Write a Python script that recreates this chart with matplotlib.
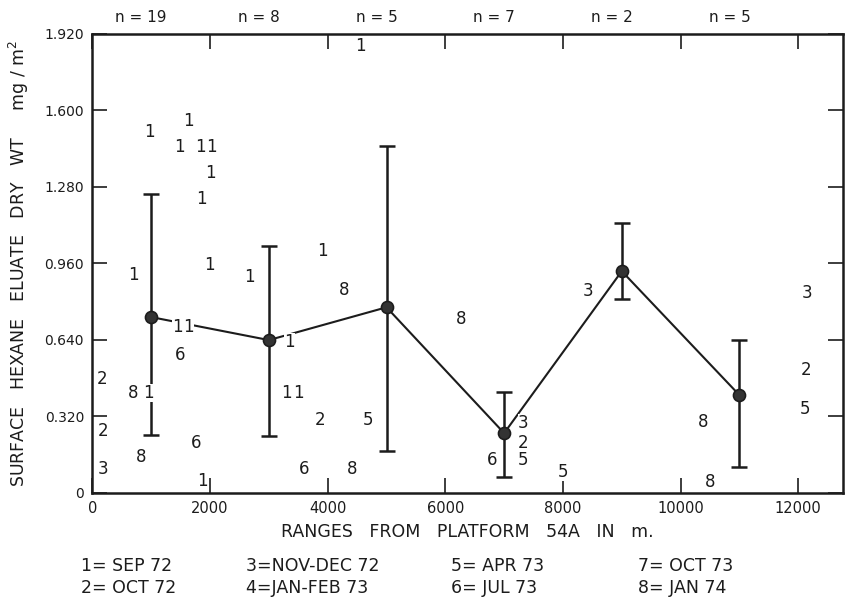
import numpy as np
import matplotlib
matplotlib.use("Agg")
import matplotlib.pyplot as plt

# station means with range bars (lower / upper)
ranges_m = [1000, 3000, 5000, 7000, 9000, 11000]
means = [0.735, 0.639, 0.776, 0.250, 0.927, 0.409]
lows = [0.242, 0.238, 0.175, 0.067, 0.810, 0.109]
highs = [1.248, 1.031, 1.448, 0.422, 1.127, 0.639]
n_counts = [19, 8, 5, 7, 2, 5]

# individual samples, coded by cruise number
sample_code = ["1", "1", "1", "1", "1", "1", "1", "1", "1", "1",
               "1", "1", "8", "1", "1", "1", "6", "2", "8", "1",
               "1", "1", "2", "2", "5", "6", "8", "3", "6", "8",
               "1", "8", "3", "3", "2", "5", "6", "5", "3", "2",
               "5", "8", "8"]
sample_x = [964, 1624, 1472, 1830, 2030, 2014, 1861, 3909, 4552, 1997,
            694, 2673, 4281, 1440, 1640, 3350, 1489, 169, 694, 948,
            3300, 3500, 186, 3875, 4687, 1760, 829, 186, 3604, 4416,
            1878, 6261, 8426, 7327, 7327, 7327, 6802, 8003, 12149, 12132,
            12115, 10389, 10508]
sample_y = [1.507, 1.553, 1.444, 1.444, 1.444, 1.336, 1.227, 1.010, 1.866, 0.952,
            0.910, 0.902, 0.847, 0.693, 0.693, 0.630, 0.576, 0.476, 0.417, 0.417,
            0.417, 0.417, 0.259, 0.305, 0.305, 0.209, 0.150, 0.100, 0.100, 0.100,
            0.050, 0.726, 0.843, 0.292, 0.209, 0.138, 0.138, 0.088, 0.835, 0.513,
            0.351, 0.296, 0.045]

yticks = [0, 0.32, 0.64, 0.96, 1.28, 1.6, 1.92]
ytick_labels = ["0", "0.320", "0.640", "0.960", "1.280", "1.600", "1.920"]
xticks = [0, 2000, 4000, 6000, 8000, 10000, 12000]

key_col1 = ["1= SEP 72", "2= OCT 72"]
key_col2 = ["3=NOV-DEC 72", "4=JAN-FEB 73"]
key_col3 = ["5= APR 73", "6= JUL 73"]
key_col4 = ["7= OCT 73", "8= JAN 74"]

ink = "#1c1c1c"
plt.rcParams["font.family"] = "DejaVu Sans"

fig = plt.figure(figsize=(8.48, 5.99), dpi=100)
ax = fig.add_axes([0.109, 0.177, 0.885, 0.767])

# mean line and range bars
ax.plot(ranges_m, means, color=ink, lw=1.5, zorder=2)
yerr = [np.array(means) - np.array(lows), np.array(highs) - np.array(means)]
ax.errorbar(ranges_m, means, yerr=yerr, fmt="none", ecolor=ink,
            elinewidth=1.8, capsize=6, capthick=1.8, zorder=2)
ax.scatter(ranges_m, means, s=75, color="#333333", edgecolor=ink,
           linewidth=1.2, zorder=4)

for code, x, y in zip(sample_code, sample_x, sample_y):
    ax.text(x, y, code, ha="center", va="center", fontsize=12, color=ink,
            zorder=3, bbox=dict(facecolor="white", edgecolor="none", pad=0.1))

for x, n in zip(ranges_m, n_counts):
    ax.text(x - 170, 1.92 + 0.035, f"n = {n}", ha="center", va="bottom",
            fontsize=11, color=ink, clip_on=False)

ax.set_xlim(40, 12760)
ax.set_ylim(0, 1.92)
ax.set_xticks(xticks)
ax.set_xticklabels([str(t) for t in xticks])
ax.set_yticks(yticks)
ax.set_yticklabels(ytick_labels)
ax.tick_params(direction="in", length=11, width=1.2, color=ink,
               labelsize=10, labelcolor=ink, top=True, right=True,
               pad=6)
ax.tick_params(axis="x", labelsize=10.5)
for side in ax.spines.values():
    side.set_linewidth(1.8)
    side.set_color(ink)

ax.set_xlabel("RANGES   FROM   PLATFORM   54A   IN   m.", fontsize=12.5,
              color=ink, labelpad=5)
ax.set_ylabel("SURFACE   HEXANE   ELUATE   DRY   WT     mg / m$^2$",
              fontsize=12.5, color=ink, labelpad=10)

# cruise key under the plot
for col, x in zip([key_col1, key_col2, key_col3, key_col4],
                  [0.095, 0.29, 0.532, 0.752]):
    for row, label in enumerate(col):
        fig.text(x, 0.055 - row * 0.036, label, fontsize=12.5, color=ink,
                 va="center", ha="left")

fig.savefig("out.png", dpi=100, facecolor="white")
